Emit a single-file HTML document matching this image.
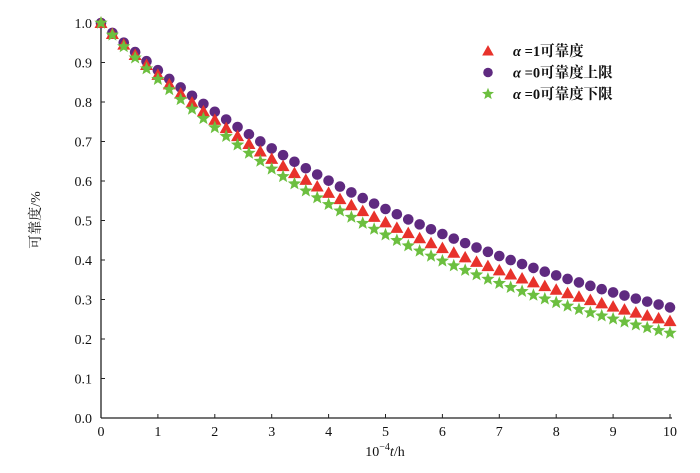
<!DOCTYPE html>
<html><head><meta charset="utf-8"><style>
body{margin:0;background:#fff}
svg text{font-family:"Liberation Serif","Noto Serif CJK SC",serif;fill:#111}
</style></head><body>
<svg id="chart" width="700" height="468" xmlns="http://www.w3.org/2000/svg"></svg>
<script>
const tValues=[0,0.2,0.4,0.6,0.8,1,1.2,1.4,1.6,1.8,2,2.2,2.4,2.6,2.8,3,3.2,3.4,3.6,3.8,4,4.2,4.4,4.6,4.8,5,5.2,5.4,5.6,5.8,6,6.2,6.4,6.6,6.8,7,7.2,7.4,7.6,7.8,8,8.2,8.4,8.6,8.8,9,9.2,9.4,9.6,9.8,10];
const redValues=[1,.9723,.9453,.9191,.8936,.8688,.8447,.8213,.7985,.7764,.7549,.7339,.7136,.6938,.6746,.6559,.6377,.6200,.6028,.5861,.5698,.5540,.5387,.5237,.5092,.4951,.4813,.4680,.4550,.4424,.4301,.4182,.4066,.3953,.3844,.3737,.3633,.3533,.3435,.3339,.3247,.3157,.3069,.2984,.2901,.2821,.2743,.2667,.2593,.2521,.2451];
const purpleValues=[1,.9749,.9503,.9264,.9032,.8805,.8583,.8368,.8157,.7952,.7752,.7557,.7367,.7182,.7001,.6825,.6654,.6486,.6323,.6164,.6009,.5858,.5711,.5567,.5427,.5291,.5158,.5028,.4902,.4778,.4658,.4541,.4427,.4316,.4207,.4101,.3998,.3898,.3800,.3704,.3611,.3520,.3432,.3346,.3261,.3179,.3100,.3022,.2946,.2872,.2799];
const greenValues=[1,.9697,.9404,.9119,.8843,.8575,.8316,.8064,.7820,.7583,.7354,.7131,.6915,.6706,.6503,.6306,.6115,.5930,.5751,.5577,.5408,.5244,.5085,.4931,.4782,.4637,.4497,.4361,.4229,.4101,.3977,.3856,.3740,.3626,.3517,.3410,.3307,.3207,.3110,.3016,.2924,.2836,.2750,.2667,.2586,.2508,.2432,.2358,.2287,.2218,.2151];
const xTicks=[0,1,2,3,4,5,6,7,8,9,10];
const yTicks=["0.0","0.1","0.2","0.3","0.4","0.5","0.6","0.7","0.8","0.9","1.0"];
const NS="http://www.w3.org/2000/svg";
const svg=document.getElementById('chart');
const X0=101,X1=670,Y0=418,Y1=23;
const xs=v=>X0+(X1-X0)*v/10;
const ys=v=>Y0-(Y0-Y1)*v;
function el(tag,attrs,parent){const e=document.createElementNS(NS,tag);for(const k in attrs)e.setAttribute(k,attrs[k]);(parent||svg).appendChild(e);return e;}
let a=el('line',{x1:X0,y1:Y0,x2:X1+2,y2:Y0,stroke:'#222','stroke-width':1.3});


a=el('line',{x1:X0,y1:Y0,x2:X0,y2:Y1-2,stroke:'#222','stroke-width':1.3});


xTicks.forEach(v=>{
 el('line',{x1:xs(v),x2:xs(v),y1:Y0,y2:Y0-4,stroke:'#222'});
 const t=el('text',{x:xs(v),y:Y0+18,'text-anchor':'middle','font-size':14});t.textContent=v;
 
 
});
yTicks.forEach(s=>{
 const v=parseFloat(s);
 el('line',{x1:X0,x2:X0+4,y1:ys(v),y2:ys(v),stroke:'#222'});
 const t=el('text',{x:X0-9,y:ys(v)+5,'text-anchor':'end','font-size':14});t.textContent=s;
 
 
});
let xt=el('text',{x:385,y:456,'text-anchor':'middle','font-size':14});
xt.innerHTML='10<tspan dy="-6" font-size="10">−4</tspan><tspan dy="6" font-style="italic">t</tspan>/h';


let yt=el('text',{x:0,y:0,'text-anchor':'middle','font-size':14,transform:'translate(40,220) rotate(-90)'});
yt.textContent='可靠度/%';


function tri(x,y,c,p,s){s=s||1;return el('polygon',{points:`${x},${y-6.5*s} ${x-6.5*s},${y+5*s} ${x+6.5*s},${y+5*s}`,fill:c},p);}
function circ(x,y,c,p,s){s=s||1;return el('circle',{cx:x,cy:y,r:5.3*s,fill:c},p);}
function star(x,y,c,p,s){s=s||1;let pts=[];for(let i=0;i<10;i++){const r=(i%2?3:7)*s;const ang=-Math.PI/2+i*Math.PI/5;pts.push((x+r*Math.cos(ang)).toFixed(1)+','+(y+r*Math.sin(ang)).toFixed(1));}return el('polygon',{points:pts.join(' '),fill:c},p);}
const RED='#e8322b',PUR='#5f2a80',GRN='#6cbf3f';
const series=[[purpleValues,circ,PUR,'purple-series'],[redValues,tri,RED,'red-series'],[greenValues,star,GRN,'green-series']];
series.forEach(([vals,fn,c,name])=>{
 const g=el('g',{});
 
 
 vals.forEach((v,i)=>{const m=fn(xs(tValues[i]),ys(v),c,g);
 
 });
});
const leg=[[tri,RED,'=1可靠度'],[circ,PUR,'=0可靠度上限'],[star,GRN,'=0可靠度下限']];
leg.forEach(([fn,c,txt],i)=>{
 const y=51+i*21.5;
 const g=el('g',{});
 
 
 fn(488,y,c,g,0.9);
 const t=el('text',{x:513,y:y+5,'font-size':14.5,'font-weight':'bold'},g);
 t.innerHTML='<tspan font-style="italic">α</tspan> '+txt;
});
</script>
</body></html>
